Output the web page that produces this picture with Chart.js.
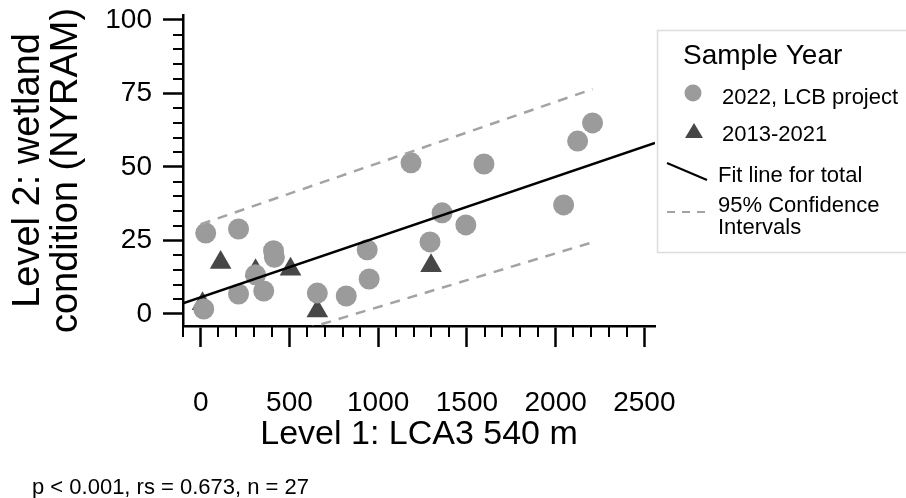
<!DOCTYPE html>
<html>
<head>
<meta charset="utf-8">
<script src="https://cdn.jsdelivr.net/npm/chart.js@4.4.1/dist/chart.umd.min.js"></script>
<style>
    html, body { margin: 0; padding: 0; background: #fff; }
    #wrap { width: 906px; height: 498px; position: relative; }
</style>
</head>
<body>
<div id="wrap"><canvas id="myChart"></canvas></div>
<script>
// 2022, LCB project (grey circles)
const lcbX = [28, 213, 410, 415, 309, 213, 355, 17, 657, 820, 949, 938, 1185, 1596, 1360, 1494, 1292, 2045, 2124, 2208]
const lcbY = [27.5, 28.9, 21.5, 19.3, 13.3, 6.8, 7.8, 1.7, 7.1, 6.1, 11.9, 21.8, 51.4, 51.0, 34.4, 30.3, 24.5, 37.1, 58.8, 65.0]

// 2013-2021 (dark triangles)
const oldX = [10, 112, 309, 506, 657, 1298]
const oldY = [3.5, 17.5, 14.7, 15.2, 1.0, 16.4]

// fit line and 95% confidence interval end points
const fitX = [-100, 2560]
const fitY = [3.6, 58.2]
const ciX = [0, 2208]
const ciUpper = [30.5, 76.5]
const ciLower = [-15.9, 24.4]

const xTicks = [0, 500, 1000, 1500, 2000, 2500]
const yTicks = [0, 25, 50, 75, 100]
const xMinorStep = 100
const yMinorStep = 5

const legendTitle = 'Sample Year'
const legendLabels = ['2022, LCB project', '2013-2021', 'Fit line for total', ['95% Confidence', 'Intervals']]
const footerText = 'p < 0.001, rs = 0.673, n = 27'

const FONT = '"Liberation Sans", Arial, Helvetica, sans-serif'
const CIRCLE = '#9b9b9b'
const TRIANGLE = '#474747'
const DASH = '#a3a3a3'

Chart.defaults.font.family = FONT
Chart.defaults.color = '#000'

function points(xs, ys) {
    return xs.map((x, i) => ({x: x, y: ys[i]}))
}

const minorTicks = {
    id: 'minorTicks',
    afterDraw(chart) {
        const {ctx, scales: {x, y}, chartArea} = chart
        ctx.save()
        ctx.strokeStyle = '#000'
        ctx.lineWidth = 2
        ctx.beginPath()
        for (let v = Math.ceil(x.min / xMinorStep) * xMinorStep; v <= x.max; v += xMinorStep) {
            if (xTicks.includes(v)) continue
            const px = Math.round(x.getPixelForValue(v))
            ctx.moveTo(px, chartArea.bottom)
            ctx.lineTo(px, chartArea.bottom + 11)
        }
        for (let v = Math.ceil(y.min / yMinorStep) * yMinorStep; v <= y.max; v += yMinorStep) {
            if (yTicks.includes(v)) continue
            const py = Math.round(y.getPixelForValue(v))
            ctx.moveTo(chartArea.left - 10, py)
            ctx.lineTo(chartArea.left, py)
        }
        ctx.stroke()
        ctx.restore()
    }
}

const boxLegend = {
    id: 'boxLegend',
    afterDraw(chart) {
        const ctx = chart.ctx
        ctx.save()
        // frame
        ctx.fillStyle = '#fff'
        ctx.fillRect(657, 30, 260, 222)
        ctx.strokeStyle = '#dcdcdc'
        ctx.lineWidth = 1.5
        ctx.strokeRect(657.5, 30.5, 260, 222)

        ctx.fillStyle = '#000'
        ctx.textBaseline = 'alphabetic'
        ctx.textAlign = 'left'
        ctx.font = '28px ' + FONT
        ctx.fillText(legendTitle, 683, 64)

        ctx.font = '22px ' + FONT
        // circle
        ctx.fillStyle = CIRCLE
        ctx.beginPath()
        ctx.arc(693, 93, 8.5, 0, Math.PI * 2)
        ctx.fill()
        ctx.fillStyle = '#000'
        ctx.fillText(legendLabels[0], 722, 104)

        // triangle
        ctx.fillStyle = TRIANGLE
        ctx.beginPath()
        ctx.moveTo(694, 123)
        ctx.lineTo(703, 138)
        ctx.lineTo(685, 138)
        ctx.closePath()
        ctx.fill()
        ctx.fillStyle = '#000'
        ctx.fillText(legendLabels[1], 722, 141)

        // fit line
        ctx.strokeStyle = '#000'
        ctx.lineWidth = 2
        ctx.beginPath()
        ctx.moveTo(667, 163)
        ctx.lineTo(707, 180)
        ctx.stroke()
        ctx.fillText(legendLabels[2], 718, 182)

        // dashed CI
        ctx.strokeStyle = DASH
        ctx.setLineDash([8, 7])
        ctx.beginPath()
        ctx.moveTo(667, 212)
        ctx.lineTo(708, 212)
        ctx.stroke()
        ctx.setLineDash([])
        ctx.fillText(legendLabels[3][0], 718, 212)
        ctx.fillText(legendLabels[3][1], 718, 234)

        // footer note
        ctx.font = '22px ' + FONT
        ctx.fillText(footerText, 32, 494)
        ctx.restore()
    }
}

const ctx = document.getElementById('myChart')

const data = {
    datasets: [
        {
            label: 'Fit line for total',
            data: points(fitX, fitY),
            showLine: true,
            borderColor: '#000',
            borderWidth: 2.5,
            pointRadius: 0
        },
        {
            label: 'Upper 95% CI',
            data: points(ciX, ciUpper),
            showLine: true,
            borderColor: DASH,
            borderWidth: 2.5,
            borderDash: [10, 8],
            pointRadius: 0
        },
        {
            label: 'Lower 95% CI',
            data: points(ciX, ciLower),
            showLine: true,
            borderColor: DASH,
            borderWidth: 2.5,
            borderDash: [10, 8],
            pointRadius: 0
        },
        {
            label: '2022, LCB project',
            data: points(lcbX, lcbY),
            pointStyle: 'circle',
            pointRadius: 10.5,
            backgroundColor: CIRCLE,
            borderWidth: 0
        },
        {
            label: '2013-2021',
            data: points(oldX, oldY),
            pointStyle: 'triangle',
            pointRadius: 12.5,
            backgroundColor: TRIANGLE,
            borderWidth: 0
        }
    ]
}

const options = {
    responsive: true,
    maintainAspectRatio: false,
    animation: false,
    layout: {
        padding: {left: 0, top: 15, right: 251, bottom: 0}
    },
    plugins: {
        legend: {display: false},
        tooltip: {enabled: false}
    },
    scales: {
        x: {
            type: 'linear',
            min: -100,
            max: 2560,
            afterBuildTicks: (scale) => { scale.ticks = xTicks.map(v => ({value: v})) },
            afterFit: (scale) => {
                scale.height = 172
                scale.paddingLeft = 0
                scale.paddingRight = 0
            },
            border: {display: true, color: '#000', width: 2.5},
            grid: {
                drawOnChartArea: false,
                drawTicks: true,
                tickLength: 21,
                tickColor: '#000',
                tickWidth: 2.5
            },
            ticks: {
                color: '#000',
                font: {size: 28},
                padding: 39,
                maxRotation: 0,
                callback: (v) => String(v)
            },
            title: {
                display: true,
                text: 'Level 1: LCA3 540 m',
                color: '#000',
                font: {size: 34},
                padding: {top: 0, bottom: 43}
            }
        },
        y: {
            type: 'linear',
            min: -4.1,
            max: 101.7,
            afterBuildTicks: (scale) => { scale.ticks = yTicks.map(v => ({value: v})) },
            afterFit: (scale) => {
                scale.width = 183
                scale.paddingTop = 0
                scale.paddingBottom = 0
            },
            border: {display: true, color: '#000', width: 2.5},
            grid: {
                drawOnChartArea: false,
                drawTicks: true,
                tickLength: 20,
                tickColor: '#000',
                tickWidth: 2.5
            },
            ticks: {
                color: '#000',
                font: {size: 28},
                padding: 11,
                callback: (v) => String(v)
            },
            title: {
                display: true,
                text: ['Level 2: wetland', 'condition (NYRAM)'],
                color: '#000',
                font: {size: 38, lineHeight: 1.0},
                padding: {top: 10, bottom: 0}
            }
        }
    }
}

new Chart(ctx, {
    type: 'scatter',
    data: data,
    options: options,
    plugins: [minorTicks, boxLegend]
})
</script>
</body>
</html>
